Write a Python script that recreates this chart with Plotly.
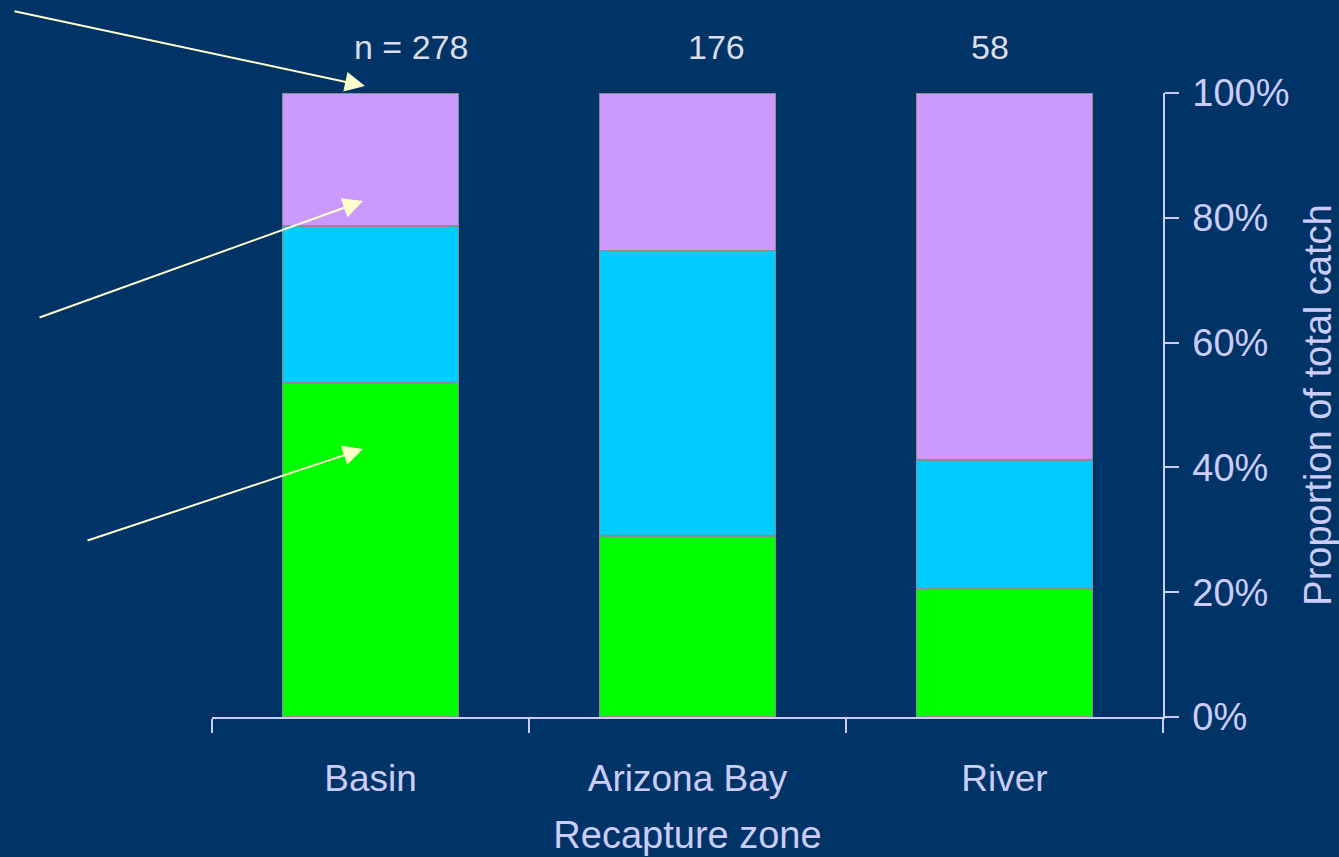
import plotly.graph_objects as go

categories = ["Basin", "Arizona Bay", "River"]
bottom_share = [0.535, 0.290, 0.205]   # green
middle_share = [0.252, 0.458, 0.207]   # cyan
top_share = [0.213, 0.252, 0.588]      # purple
n_labels = ["n = 278", "176", "58"]
n_label_x = [0.2093, 0.530, 0.818]
y_ticks = [0, 0.2, 0.4, 0.6, 0.8, 1.0]

W, H = 1339, 857
L, R, T, B = 212, 176, 93, 140
PW, PH = W - L - R, H - T - B

BG = "#003366"
TXT = "#CCCCFF"
FONT = "Liberation Sans, Arial, sans-serif"

fig = go.Figure()
for name, vals, col in [("Segment 1", bottom_share, "#00FF00"),
                        ("Segment 2", middle_share, "#00CCFF"),
                        ("Segment 3", top_share, "#CC99FF")]:
    fig.add_trace(go.Bar(x=categories, y=vals, name=name,
                         marker=dict(color=col, line=dict(color="#8C8C8C", width=1.5)),
                         showlegend=False))

def px2paper(px, py):
    return (px - L) / PW, (H - B - py) / PH

annotations = []
for txt, xp in zip(n_labels, n_label_x):
    annotations.append(dict(text=txt, x=xp, y=1.0737, xref="paper", yref="paper",
                            showarrow=False, xanchor="center", yanchor="middle",
                            font=dict(size=34, color="#DDDDEA", family=FONT)))

arrows = [((13, 11), (365, 86)), ((38, 318), (363, 201)), ((86, 541), (363, 449))]
for (tx, ty), (hx, hy) in arrows:
    xp, yp = px2paper(hx, hy)
    annotations.append(dict(text="", x=xp, y=yp, xref="paper", yref="paper",
                            ax=tx - hx, ay=ty - hy, axref="pixel", ayref="pixel",
                            showarrow=True, arrowhead=2, arrowsize=2.0, arrowwidth=2,
                            arrowcolor="#FFFFCC", standoff=0))

fig.update_layout(
    width=W, height=H,
    margin=dict(l=L, r=R, t=T, b=B, pad=0),
    paper_bgcolor=BG, plot_bgcolor=BG,
    barmode="stack", bargap=0.445,
    font=dict(family=FONT, color=TXT, size=38),
    annotations=annotations,
    xaxis=dict(showgrid=False, showline=True, linecolor=TXT, linewidth=1.5,
               ticks="outside", ticklen=14, tickwidth=1.5, tickcolor=TXT,
               tickson="boundaries", ticklabelstandoff=28, automargin=False,
               tickfont=dict(size=37, color=TXT),
               title=dict(text="Recapture zone", font=dict(size=38, color=TXT), standoff=23),
               zeroline=False),
    yaxis=dict(side="right", range=[0, 1], tickvals=y_ticks, tickformat=".0%",
               showgrid=False, showline=True, linecolor=TXT, linewidth=1.5,
               ticks="outside", ticklen=14, tickwidth=1.5, tickcolor=TXT,
               ticklabelstandoff=6, tickfont=dict(size=38, color=TXT), automargin=False,
               title=dict(text="Proportion of total catch", font=dict(size=38, color=TXT), standoff=20),
               zeroline=False),
)

fig.write_html("out.html", config={"displayModeBar": False},
               post_script="document.body.style.margin='0';document.body.style.background='#003366';document.body.style.overflow='hidden';")
